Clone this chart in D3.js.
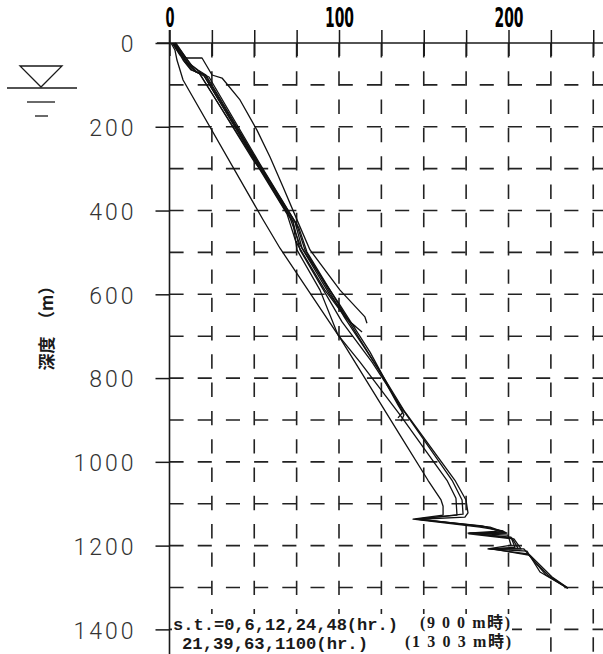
<!DOCTYPE html>
<html>
<head>
<meta charset="utf-8">
<script src="https://cdn.jsdelivr.net/npm/d3@7"></script>
<style>
  html, body { margin: 0; padding: 0; background: #fff; }
  svg { display: block; }
</style>
</head>
<body>
<svg id="chart" width="603" height="654"></svg>
<script>
// Axis ticks and grid positions
const tempLabels = [0, 100, 200];
const tempGrid = [0, 25, 50, 75, 100, 125, 150, 175, 200, 225, 250];
const depthLabels = [0, 200, 400, 600, 800, 1000, 1200, 1400];
const depthGrid = [100, 200, 300, 400, 500, 600, 700, 800, 900, 1000, 1100, 1200, 1300, 1400];

// Temperature logs [temperature (°C), depth (m)], shut-in times at 900 m
const st900_0 = [[1.5,0],[6.2,28.7],[10.3,35.8],[19.2,35.8],[25.1,76.4],[31.0,83.6],[41.6,136],[51.6,208],[59.3,272],[67.0,344],[77.0,439],[82.9,494],[100.6,590],[115.3,654],[116.5,669]];
const st900_6 = [[2.1,0],[10.3,47.8],[15.0,66.9],[19.8,74],[47.5,260],[71.1,418],[77.0,482],[94.7,602],[106.5,666],[113.6,690]];
const st900_12 = [[2.7,0],[11.5,52.5],[16.2,69.2],[20.9,76.4],[50.4,275],[74.0,427],[78.2,490],[100.6,626],[118.3,738],[133.0,848],[137.8,881],[134.8,895]];
const st900_24 = [[2.1,0],[8.0,40.6],[12.7,64.5],[17.4,71.6],[46.3,256],[69.3,408],[74.6,475],[91.7,590],[104.1,657],[110.0,678]];
const st900_48 = [[3.2,0],[13.3,54.9],[18.6,71.6],[23.3,81.2],[53.4,289],[76.4,442],[81.1,499],[105.3,661],[124.2,786],[134.8,864],[138.3,888],[136.6,903]];

// Shut-in times at 1303 m
const st1303_21 = [[0.9,0],[3.2,16.7],[4.4,40.6],[8.0,88.3],[55.2,422],[65.2,490],[100.6,704],[136.0,936],[152.5,1044],[160.2,1091],[161.4,1106],[161.4,1127],[143.7,1137],[183.2,1156],[196.8,1165],[176.1,1170],[199.7,1175],[201.5,1199],[187.9,1208],[209.1,1208],[215.6,1239],[223.3,1270],[235.1,1302]];
const st1303_39 = [[2.7,0],[9.1,45.4],[13.3,64.5],[18.0,74],[49.3,279],[59.3,332],[72.9,427],[75.2,494],[88.8,590],[99.4,697],[112.4,762],[136.0,888],[163.7,1044],[169.0,1087],[169.6,1127],[145.4,1137],[184.4,1153],[197.9,1168],[177.3,1170],[201.5,1180],[203.8,1204],[188.5,1208],[210.9,1213],[218.6,1263],[234.0,1299]];
const st1303_63 = [[3.8,0],[12.1,50.1],[16.8,64.5],[21.5,76.4],[52.2,284],[75.2,435],[79.9,494],[103.5,657],[123.0,776],[138.9,881],[168.4,1044],[174.9,1091],[176.1,1122],[174.3,1132],[147.2,1137],[189.1,1156],[199.1,1170],[176.7,1172],[203.2,1184],[207.4,1208],[190.3,1208],[212.7,1223],[225.7,1275],[235.1,1301]];
const st1303_1100 = [[3.2,0],[10.9,47.8],[15.6,69.3],[20.4,78.8],[50.4,279],[72.9,427],[77.0,494],[101.8,666],[119.5,762],[137.8,876],[166.7,1044],[172.6,1091],[173.2,1125],[146.0,1137],[186.7,1156],[198.5,1170],[176.7,1170],[202.1,1182],[205.6,1206],[189.1,1208],[211.5,1220],[222.1,1270],[234.5,1301]];

const logs = [st900_0, st900_6, st900_12, st900_24, st900_48,
              st1303_21, st1303_39, st1303_63, st1303_1100];

const svg = d3.select("#chart");
const W = 603, H = 654;

const x = d3.scaleLinear().domain([0, 250]).range([169.5, 593.25]);
const y = d3.scaleLinear().domain([0, 1300]).range([43, 587.5]);

const ink = "#1a1a1a";

// Dashed grid
const grid = svg.append("g").attr("stroke", "#222").attr("stroke-width", 1.6).attr("fill", "none");
grid.selectAll("line.h").data(depthGrid).join("line")
  .attr("class", "h")
  .attr("x1", x(0)).attr("x2", W)
  .attr("y1", d => y(d)).attr("y2", d => y(d))
  .attr("stroke-dasharray", "14.1 14.1");
grid.selectAll("line.v").data(tempGrid.slice(1)).join("line")
  .attr("class", "v")
  .attr("x1", d => x(d)).attr("x2", d => x(d))
  .attr("y1", y(0)).attr("y2", H)
  .attr("stroke-dasharray", "14.4 13.9");

// Top axis (temperature)
const topAxis = d3.axisTop(x).tickValues(tempGrid).tickSize(13)
  .tickFormat(d => tempLabels.includes(d) ? String(d) : "");
const gTop = svg.append("g").attr("transform", `translate(0,${y(0)})`).call(topAxis);
gTop.select(".domain").remove();
gTop.selectAll(".tick line").attr("y1", 13).attr("y2", -13).attr("stroke", ink).attr("stroke-width", 1.5);
gTop.selectAll(".tick text")
  .attr("y", -16)
  .attr("font-family", "'Liberation Sans Narrow', 'DejaVu Sans Condensed', sans-serif")
  .attr("font-weight", "bold").attr("font-size", 26).attr("fill", "#000")
  .each(function(d) {
    if (tempLabels.includes(d)) {
      d3.select(this).attr("textLength", d === 0 ? 9 : 29).attr("lengthAdjust", "spacingAndGlyphs");
    }
  });
svg.append("line").attr("x1", 157).attr("x2", W).attr("y1", y(0)).attr("y2", y(0))
  .attr("stroke", ink).attr("stroke-width", 1.6);

// Left axis (depth)
const leftAxis = d3.axisLeft(y).tickValues(depthLabels).tickSize(14).tickPadding(20)
  .tickFormat(d => String(d));
const gLeft = svg.append("g").attr("transform", `translate(${x(0)},0)`).call(leftAxis);
gLeft.select(".domain").remove();
gLeft.selectAll(".tick line").attr("stroke", ink).attr("stroke-width", 1.5);
gLeft.selectAll(".tick text")
  .attr("x", -33).attr("dy", "0.38em")
  .attr("font-family", "Roboto, 'Open Sans', sans-serif").attr("font-weight", 300)
  .attr("font-size", 23).attr("letter-spacing", 3).attr("fill", "#333");
svg.append("line").attr("x1", x(0)).attr("x2", x(0)).attr("y1", 30).attr("y2", H)
  .attr("stroke", ink).attr("stroke-width", 1.6);

// Depth axis title
svg.append("text")
  .attr("transform", "translate(47,324) rotate(-90)")
  .attr("text-anchor", "middle").attr("dy", "0.35em")
  .attr("font-family", "'Noto Sans CJK JP', sans-serif").attr("font-weight", "bold")
  .attr("font-size", 17).attr("fill", ink)
  .text("深度　（m）");

// Water-level mark
const wl = svg.append("g").attr("stroke", ink).attr("stroke-width", 1.3).attr("fill", "none");
wl.append("path").attr("d", "M20,66 L62,66 L41,87 Z");
wl.append("line").attr("x1", 7).attr("x2", 77).attr("y1", 88).attr("y2", 88);
wl.append("line").attr("x1", 27).attr("x2", 55).attr("y1", 102).attr("y2", 102);
wl.append("line").attr("x1", 35).attr("x2", 48).attr("y1", 116).attr("y2", 116);

// Temperature logs
const line = d3.line().x(d => x(d[0])).y(d => y(d[1]));
svg.append("g").attr("fill", "none").attr("stroke", "#111").attr("stroke-width", 1.3)
  .attr("stroke-linejoin", "round")
  .selectAll("path").data(logs).join("path").attr("d", line);

// Legend note
svg.append("rect").attr("x", 172).attr("y", 614).attr("width", 340).attr("height", 40).attr("fill", "#fff");
const mono = "'Liberation Mono', 'DejaVu Sans Mono', monospace";
const serif = "'Liberation Serif', 'Noto Sans CJK JP', serif";
const note = svg.append("g").attr("fill", ink).attr("font-weight", "bold");
note.append("text").attr("x", 173).attr("y", 630)
  .attr("font-family", mono).attr("font-size", 16)
  .attr("textLength", 225).attr("lengthAdjust", "spacingAndGlyphs")
  .text("s.t.=0,6,12,24,48(hr.)");
note.append("text").attr("x", 182).attr("y", 649)
  .attr("font-family", mono).attr("font-size", 16)
  .attr("textLength", 186).attr("lengthAdjust", "spacingAndGlyphs")
  .text("21,39,63,1100(hr.)");
note.append("text").attr("x", 420).attr("y", 628)
  .attr("font-family", serif).attr("font-size", 16)
  .attr("textLength", 90).attr("lengthAdjust", "spacing")
  .text("(9 0 0 m時)");
note.append("text").attr("x", 405).attr("y", 647)
  .attr("font-family", serif).attr("font-size", 16)
  .attr("textLength", 106).attr("lengthAdjust", "spacing")
  .text("(1 3 0 3 m時)");
</script>
</body>
</html>
